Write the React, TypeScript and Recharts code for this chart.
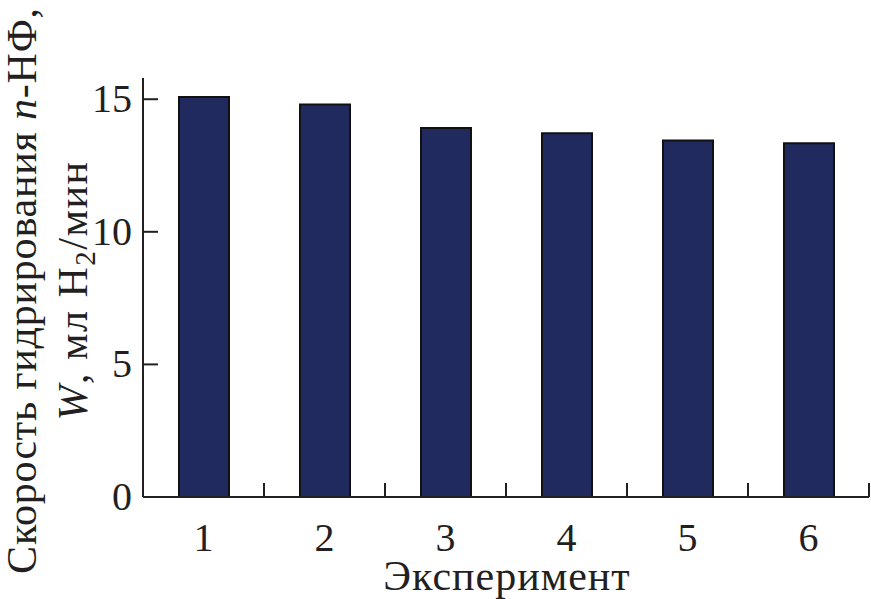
import { BarChart, Bar, XAxis, YAxis } from 'recharts';

const experiments = ['1', '2', '3', '4', '5', '6'];
const rates = [15.08, 14.8, 13.91, 13.72, 13.44, 13.34];
const yTicks = [0, 5, 10, 15];

const data = experiments.map((exp, i) => ({ exp, rate: rates[i] }));

const FONT = '"Liberation Serif", "Times New Roman", serif';
const INK = '#231f20';
const BAR_FILL = '#212a5e';

const CHART_W = 871;
const CHART_H = 599;
const Y_AXIS_W = 143;
const RIGHT = 2;
const BAND = (CHART_W - Y_AXIS_W - RIGHT) / experiments.length;

// y ticks point into the plot, labels sit to the left
const YTick = ({ x, y, payload }: any) => (
  <g>
    <line x1={x} y1={y} x2={x + 15} y2={y} stroke={INK} strokeWidth={2} />
    <text x={x - 11} y={y + 13} textAnchor="end" fontFamily={FONT} fontSize={40} fill={INK}>
      {payload.value}
    </text>
  </g>
);

// x ticks mark the band boundaries, pointing up
const XTick = ({ x, y, payload }: any) => (
  <g>
    <line x1={x + BAND / 2} y1={y} x2={x + BAND / 2} y2={y - 14} stroke={INK} strokeWidth={2} />
    <text x={x} y={y + 54} textAnchor="middle" fontFamily={FONT} fontSize={40} fill={INK}>
      {payload.value}
    </text>
  </g>
);

const YLabel = ({ viewBox }: any) => {
  const cy = viewBox.y + viewBox.height / 2 + 3;
  return (
    <g fontFamily={FONT} fontSize={42} fill={INK}>
      <text
        x={36}
        y={cy}
        textAnchor="middle"
        letterSpacing={0.8}
        transform={`rotate(-90, 36, ${cy})`}
      >
        Скорость гидрирования <tspan fontStyle="italic">n</tspan>-НФ,
      </text>
      <text
        x={87}
        y={cy}
        textAnchor="middle"
        letterSpacing={1.5}
        transform={`rotate(-90, 87, ${cy})`}
      >
        <tspan fontStyle="italic">W</tspan>, мл H<tspan fontSize={29} dy={8}>2</tspan>
        <tspan dy={-8}>/мин</tspan>
      </text>
    </g>
  );
};

const XLabel = ({ viewBox }: any) => (
  <text
    x={viewBox.x + viewBox.width / 2 + 1}
    y={590}
    textAnchor="middle"
    fontFamily={FONT}
    fontSize={42}
    letterSpacing={1}
    fill={INK}
  >
    Эксперимент
  </text>
);

export default function App() {
  return (
    <div style={{ position: 'absolute', left: 0, top: 0, background: '#fff' }}>
      <BarChart
        width={CHART_W}
        height={CHART_H}
        data={data}
        margin={{ top: 78, right: RIGHT, bottom: 0, left: 0 }}
        barSize={50}
      >
        <XAxis
          dataKey="exp"
          height={102}
          axisLine={{ stroke: INK, strokeWidth: 2 }}
          tickLine={false}
          tickSize={0}
          tickMargin={0}
          interval={0}
          tick={<XTick />}
          label={<XLabel />}
        />
        <YAxis
          width={Y_AXIS_W}
          domain={[0, 15.8]}
          ticks={yTicks}
          axisLine={{ stroke: INK, strokeWidth: 2 }}
          tickLine={false}
          tickSize={0}
          tickMargin={0}
          tick={<YTick />}
          label={<YLabel />}
        />
        <Bar
          dataKey="rate"
          fill={BAR_FILL}
          stroke="#111111"
          strokeWidth={2}
          isAnimationActive={false}
        />
      </BarChart>
    </div>
  );
}
